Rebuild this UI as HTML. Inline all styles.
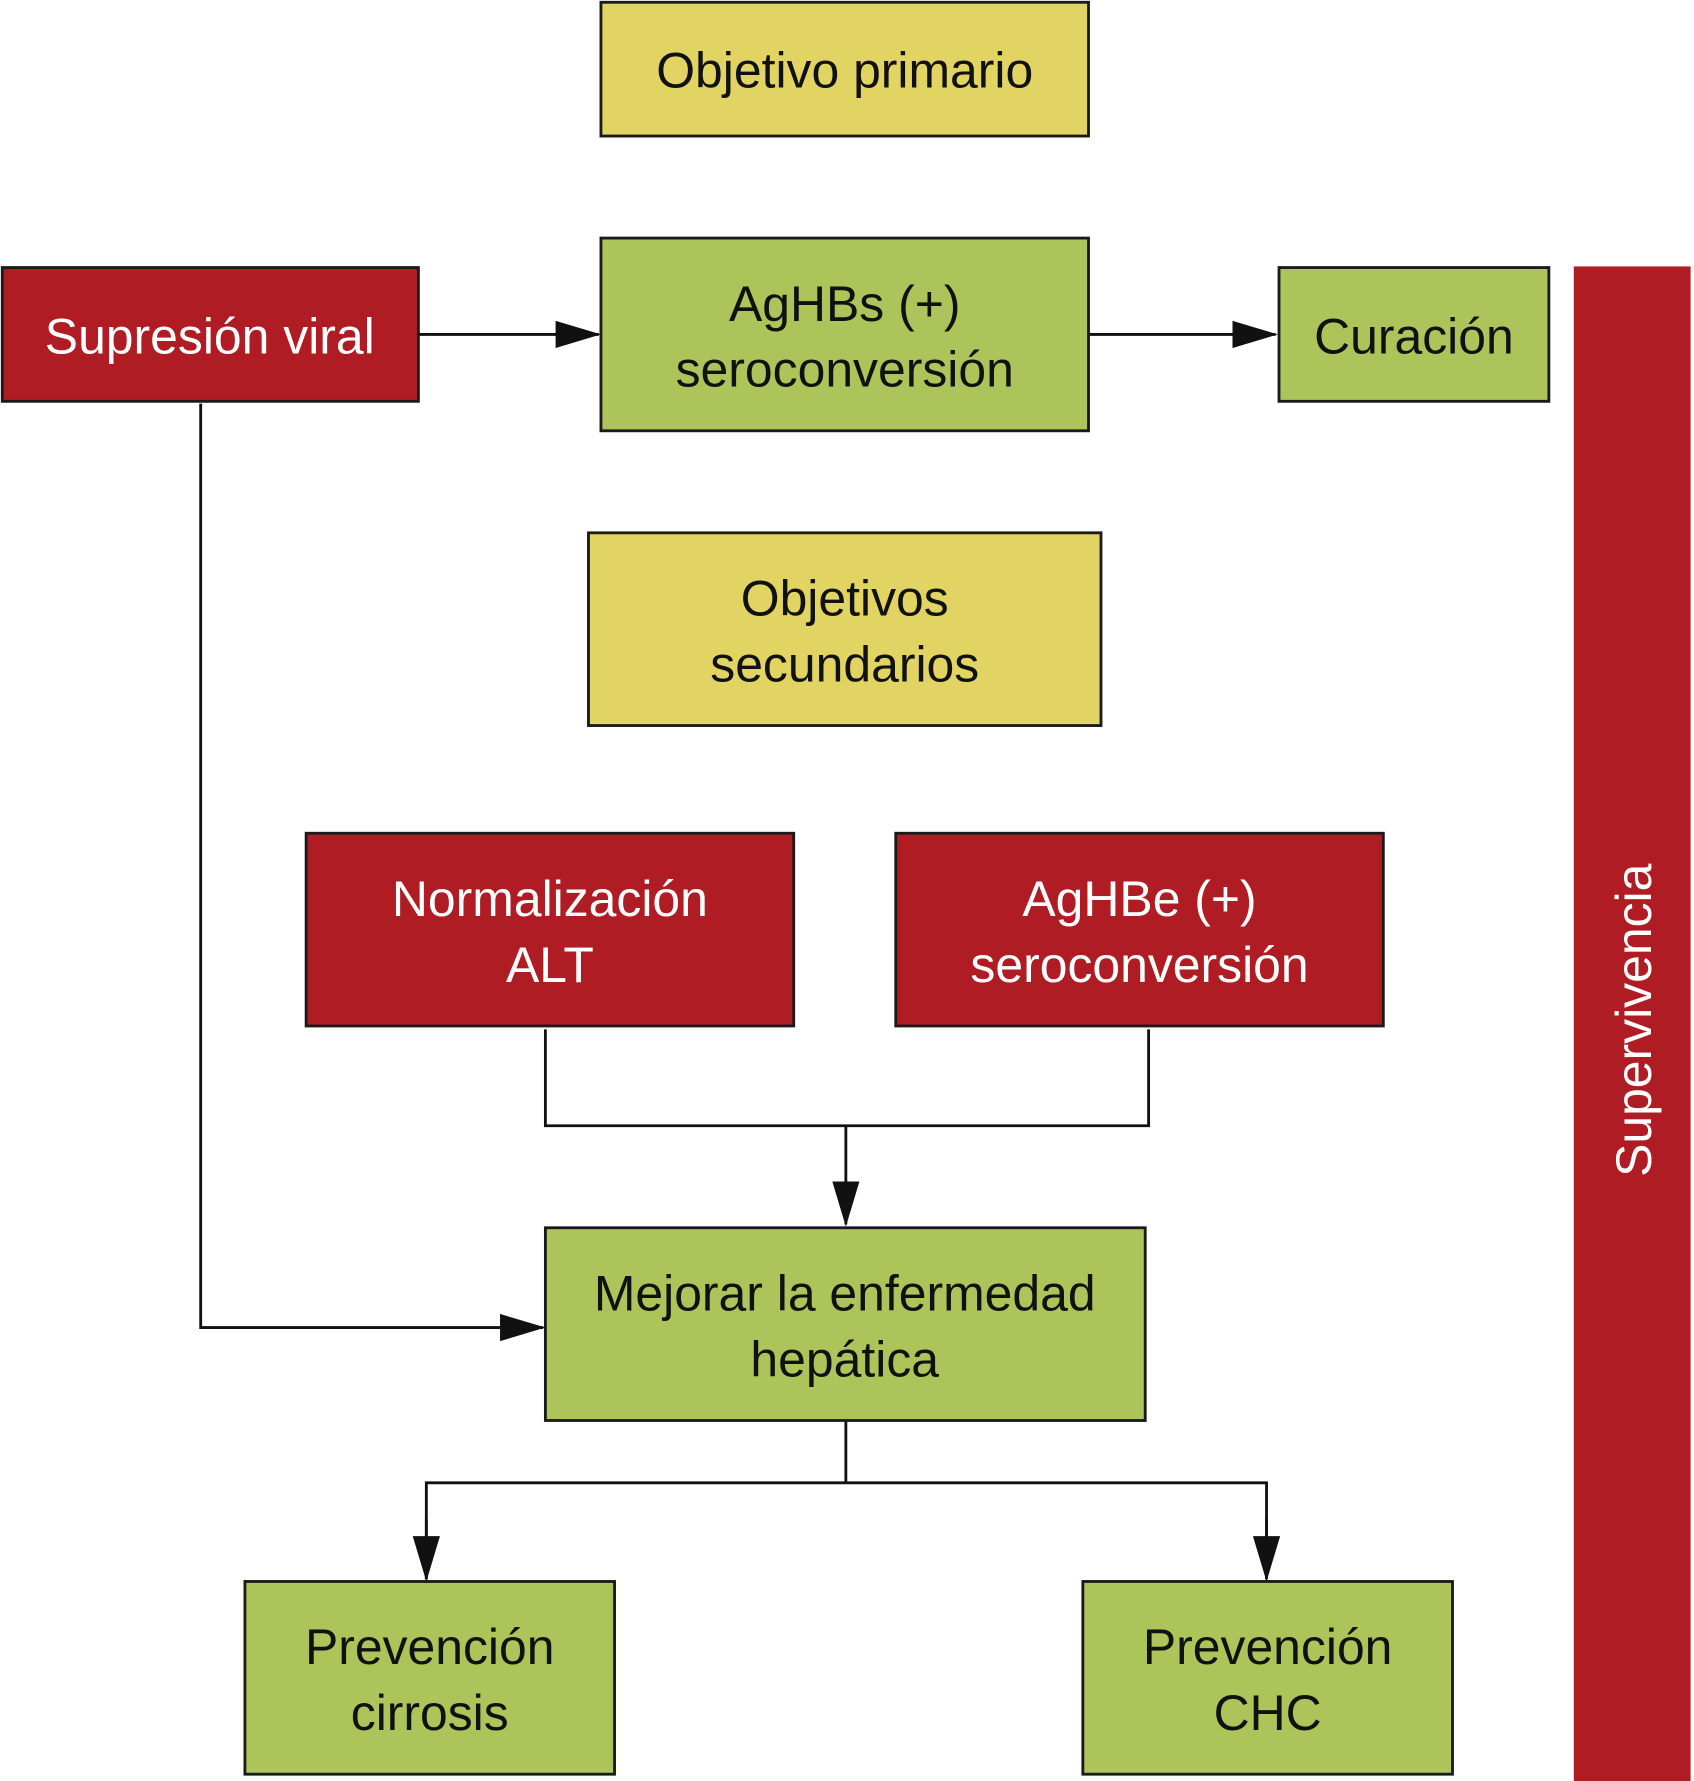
<!DOCTYPE html>
<html><head><meta charset="utf-8"><style>html,body{margin:0;padding:0;background:#fff}svg{display:block}</style></head>
<body>
<svg width="1694" height="1781" viewBox="0 0 1494 1571" preserveAspectRatio="none" xmlns="http://www.w3.org/2000/svg" font-family="Liberation Sans, Arial, sans-serif" font-size="44" text-anchor="middle">
<defs><marker id="a" markerWidth="40" markerHeight="24" refX="38" refY="12" orient="auto" markerUnits="userSpaceOnUse"><path d="M0,0 L40,12 L0,24 Z" fill="#111"/></marker></defs>
<g stroke="#1a1a1a" stroke-width="2.5">
<rect x="530" y="2" width="430" height="118" fill="#e2d462"/>
<rect x="2" y="236" width="367" height="118" fill="#b01c23"/>
<rect x="530" y="210" width="430" height="170" fill="#acc459"/>
<rect x="1128" y="236" width="238" height="118" fill="#acc459"/>
<rect x="519" y="470" width="452" height="170" fill="#e2d462"/>
<rect x="270" y="735" width="430" height="170" fill="#b01c23"/>
<rect x="790" y="735" width="430" height="170" fill="#b01c23"/>
<rect x="481" y="1083" width="529" height="170" fill="#acc459"/>
<rect x="216" y="1395" width="326" height="170" fill="#acc459"/>
<rect x="955" y="1395" width="326" height="170" fill="#acc459"/>
</g>
<rect x="1388" y="235" width="103" height="1336" fill="#b01c23"/>
<g stroke="#111" stroke-width="2.5" fill="none">
<line x1="370" y1="295" x2="528" y2="295" marker-end="url(#a)"/>
<line x1="961" y1="295" x2="1125" y2="295" marker-end="url(#a)"/>
<polyline points="177,356 177,1171 479,1171" marker-end="url(#a)"/>
<polyline points="481,908 481,993 1013,993 1013,908"/>
<line x1="746" y1="993" x2="746" y2="1080" marker-end="url(#a)"/>
<line x1="746" y1="1254" x2="746" y2="1308"/>
<polyline points="376,1393 376,1308 1117,1308 1117,1393"/>
<line x1="376" y1="1340" x2="376" y2="1393" marker-end="url(#a)"/>
<line x1="1117" y1="1340" x2="1117" y2="1393" marker-end="url(#a)"/>
</g>
<g fill="#111">
<text x="745" y="77">Objetivo primario</text>
<text x="745" y="283">AgHBs (+)</text>
<text x="745" y="341">seroconversión</text>
<text x="1247" y="312">Curación</text>
<text x="745" y="543">Objetivos</text>
<text x="745" y="601">secundarios</text>
<text x="745" y="1156">Mejorar la enfermedad</text>
<text x="745" y="1214">hepática</text>
<text x="379" y="1468">Prevención</text>
<text x="379" y="1526">cirrosis</text>
<text x="1118" y="1468">Prevención</text>
<text x="1118" y="1526">CHC</text>
</g>
<g fill="#fff">
<text x="185" y="312">Supresión viral</text>
<text x="485" y="808">Normalización</text>
<text x="485" y="866">ALT</text>
<text x="1005" y="808">AgHBe (+)</text>
<text x="1005" y="866">seroconversión</text>
<text transform="translate(1456,900) rotate(-90)">Supervivencia</text>
</g>
</svg>
</body></html>
